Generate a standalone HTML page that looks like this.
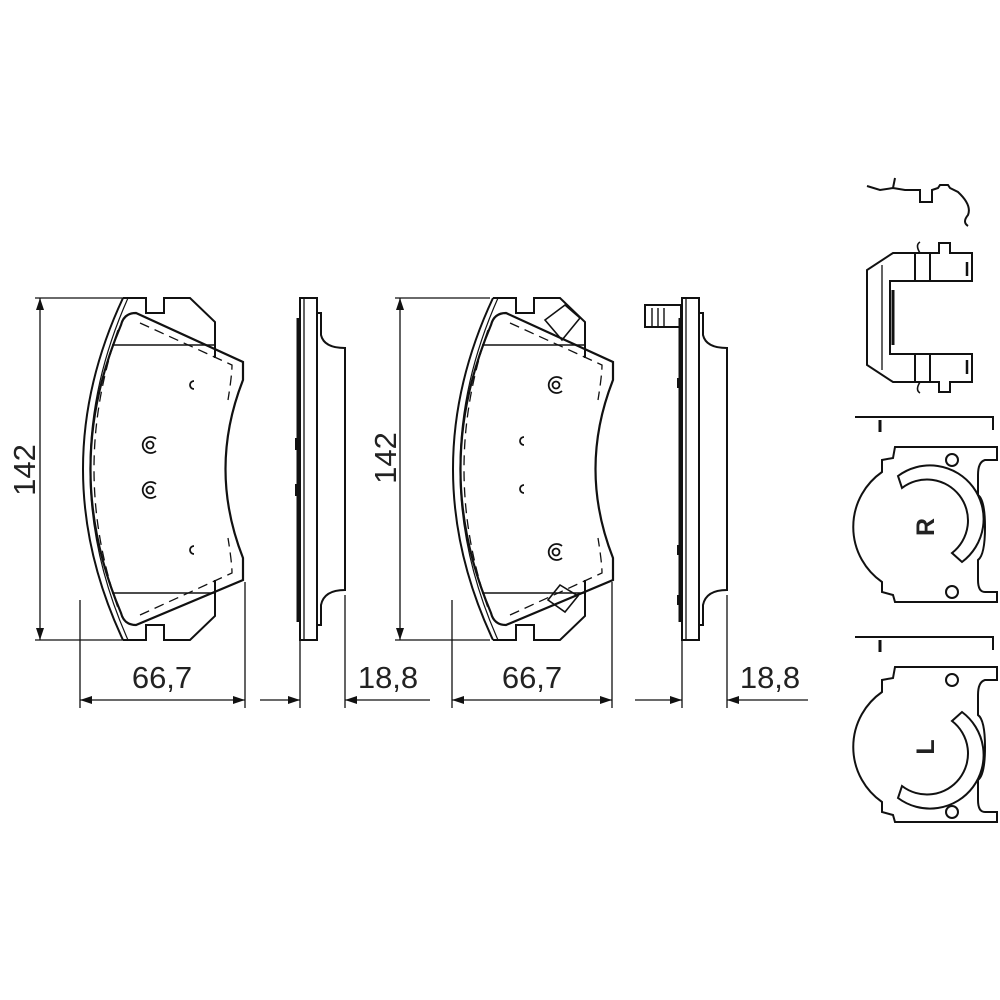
<!DOCTYPE html>
<html><head><meta charset="utf-8"><style>
html,body{margin:0;padding:0;background:#fff;}
svg{display:block}
text{font-family:"Liberation Sans",sans-serif;fill:#222}
</style></head><body>
<svg width="1000" height="1000" viewBox="0 0 1000 1000" xmlns="http://www.w3.org/2000/svg">
<defs>
<marker id="ar" markerWidth="12" markerHeight="8" refX="12" refY="4" orient="auto" markerUnits="userSpaceOnUse">
<path d="M0,0 L12,4 L0,8 z" fill="#111"/></marker>
<g id="pad" fill="none" stroke="#111" stroke-width="2">
<path d="M123,298 L146,298 L146,313 L164,313 L164,298 L190,298 L215,322 L215,358"/>
<path d="M123,640 L146,640 L146,625 L164,625 L164,640 L190,640 L215,616 L215,580"/>
<path d="M123,298 Q43,469 123,640"/>
<path d="M128,298 Q52,469 128,640" stroke-width="1.2"/>
<path d="M136,313 Q124,313 121,325 Q60,469 121,613 Q124,625 136,625 L243,580 L243,558 Q208,469 243,380 L243,362 Z" stroke-width="2.2"/>
<path d="M112,345 L215,345 M112,593 L215,593" stroke-width="1.6"/>
<path d="M118,330 Q70,469 118,608" stroke-dasharray="10,6" stroke-width="1.3"/>
<path d="M140,323 L232,365 Q232,375 228,400 M140,615 L232,573 Q232,563 228,538" stroke-dasharray="10,6" stroke-width="1.3"/>
</g>
<g id="side" fill="none" stroke="#111" stroke-width="2">
<rect x="300" y="298" width="17" height="342"/>
<line x1="304" y1="298" x2="304" y2="640" stroke-width="1.3"/>
<path d="M317,313 L321,313 L321,335 Q324,348 345,348 L345,590 Q324,590 321,605 L321,625 L317,625"/>
<line x1="298" y1="318" x2="298" y2="622" stroke-width="3"/>
</g>
</defs>

<use href="#pad"/>
<g fill="none" stroke="#111" stroke-width="1.8">
<path d="M194,381 A4,4 0 1 0 194,389"/>
<path d="M194,546 A4,4 0 1 0 194,554"/>
<circle cx="150" cy="445" r="3.5"/><path d="M156,439 A8,8 0 1 0 156,451"/>
<circle cx="150" cy="490" r="3.5"/><path d="M156,484 A8,8 0 1 0 156,496"/>
</g>
<use href="#side"/>
<rect x="295" y="438" width="4" height="12" fill="#111"/>
<rect x="295" y="484" width="4" height="12" fill="#111"/>

<use href="#pad" transform="translate(370,0)"/>
<g fill="none" stroke="#111" stroke-width="1.8">
<path d="M524,437 A4,4 0 1 0 524,445"/>
<path d="M524,485 A4,4 0 1 0 524,493"/>
<circle cx="556" cy="385" r="3.5"/><path d="M562,379 A8,8 0 1 0 562,391"/>
<circle cx="556" cy="552" r="3.5"/><path d="M562,546 A8,8 0 1 0 562,558"/>
<path d="M545,320 L565,305 L580,318 L562,340 Z M548,600 L565,612 L578,596 L560,585 Z" stroke-width="1.6"/>
</g>
<use href="#side" transform="translate(382,0)"/>
<g fill="none" stroke="#111" stroke-width="2">
<rect x="645" y="305" width="36" height="22"/>
<path d="M652,308 L652,326 M658,308 L658,326 M664,308 L664,326" stroke-width="1.4"/>
</g>
<g fill="#111">
<rect x="677" y="378" width="4" height="10"/><rect x="677" y="545" width="4" height="10"/><rect x="677" y="595" width="4" height="10"/>
</g>

<g stroke="#111" stroke-width="1.3" fill="none">
<line x1="35" y1="298" x2="125" y2="298"/><line x1="35" y1="640" x2="125" y2="640"/>
<line x1="40" y1="470" x2="40" y2="298" marker-end="url(#ar)"/>
<line x1="40" y1="470" x2="40" y2="640" marker-end="url(#ar)"/>
<line x1="80" y1="600" x2="80" y2="708"/><line x1="245" y1="582" x2="245" y2="708"/>
<line x1="162" y1="700" x2="80" y2="700" marker-end="url(#ar)"/>
<line x1="162" y1="700" x2="245" y2="700" marker-end="url(#ar)"/>
<line x1="300" y1="640" x2="300" y2="708"/><line x1="345" y1="595" x2="345" y2="708"/>
<line x1="260" y1="700" x2="300" y2="700" marker-end="url(#ar)"/>
<line x1="430" y1="700" x2="345" y2="700" marker-end="url(#ar)"/>

<line x1="395" y1="298" x2="490" y2="298"/><line x1="395" y1="640" x2="490" y2="640"/>
<line x1="400" y1="470" x2="400" y2="298" marker-end="url(#ar)"/>
<line x1="400" y1="470" x2="400" y2="640" marker-end="url(#ar)"/>
<line x1="452" y1="600" x2="452" y2="708"/><line x1="612" y1="582" x2="612" y2="708"/>
<line x1="532" y1="700" x2="452" y2="700" marker-end="url(#ar)"/>
<line x1="532" y1="700" x2="612" y2="700" marker-end="url(#ar)"/>
<line x1="682" y1="640" x2="682" y2="708"/><line x1="727" y1="595" x2="727" y2="708"/>
<line x1="635" y1="700" x2="682" y2="700" marker-end="url(#ar)"/>
<line x1="808" y1="700" x2="727" y2="700" marker-end="url(#ar)"/>
</g>
<g font-size="31">
<text x="35" y="470" text-anchor="middle" transform="rotate(-90 35 470)">142</text>
<text x="396" y="458" text-anchor="middle" transform="rotate(-90 396 458)">142</text>
<text x="162" y="688" text-anchor="middle">66,7</text>
<text x="388" y="688" text-anchor="middle">18,8</text>
<text x="532" y="688" text-anchor="middle">66,7</text>
<text x="770" y="688" text-anchor="middle">18,8</text>
</g>

<g fill="none" stroke="#111" stroke-width="2">
<path d="M867,186 L880,190 L893,188 L895,178 M893,188 L905,190 L920,190 L920,202 L932,202 L932,190 L938,188 L940,185 L948,185 L950,188 L958,192 Q972,205 968,215 Q962,222 968,226"/>
<path d="M939,253 L939,243 L950,243 L950,253 L972,253 L972,281 L890,281 L890,354 L972,354 L972,382 L950,382 L950,392 L939,392 L939,382 L893,382 L867,365 L867,270 L893,253 Z"/>
<line x1="915" y1="253" x2="915" y2="281"/><line x1="930" y1="253" x2="930" y2="281"/>
<line x1="915" y1="354" x2="915" y2="382"/><line x1="930" y1="354" x2="930" y2="382"/>
<line x1="882" y1="265" x2="882" y2="370" stroke-width="1.3"/>
<line x1="893" y1="290" x2="893" y2="345" stroke-width="3"/>
<line x1="967" y1="262" x2="967" y2="276" stroke-width="2.5"/><line x1="967" y1="360" x2="967" y2="374" stroke-width="2.5"/>
<path d="M920,253 Q915,245 920,242 M920,382 Q915,390 920,393" stroke-width="1.6"/>
</g>

<g id="shimR" fill="none" stroke="#111" stroke-width="2">
<path d="M855,417 L993,417 L993,430"/>
<line x1="880" y1="420" x2="880" y2="432" stroke-width="3"/>
<path d="M895,447 L997,447 L997,460 L985,460 Q978,462 978,475 L978,495 Q985,500 985,527 Q985,555 978,560 L978,580 Q978,592 985,592 L997,592 L997,602 L895,602 L893,595 L882,592 L882,582 A67,67 0 0 1 882,472 L882,460 L893,458 Z"/>
<circle cx="952" cy="460" r="6"/><circle cx="952" cy="592" r="6"/>
</g>
<path d="M898,476 A52,52 0 0 1 962,562 L952,553 A38,38 0 0 0 902,488 Z" fill="none" stroke="#111" stroke-width="2"/>
<text x="934" y="527" font-size="25" font-weight="bold" text-anchor="middle" transform="rotate(-90 934 527)" fill="#111">R</text>

<use href="#shimR" transform="translate(0,220)"/>
<path d="M898,798 A52,52 0 0 0 962,712 L952,721 A38,38 0 0 1 902,786 Z" fill="none" stroke="#111" stroke-width="2"/>
<text x="934" y="747" font-size="25" font-weight="bold" text-anchor="middle" transform="rotate(-90 934 747)" fill="#111">L</text>
</svg>
</body></html>
